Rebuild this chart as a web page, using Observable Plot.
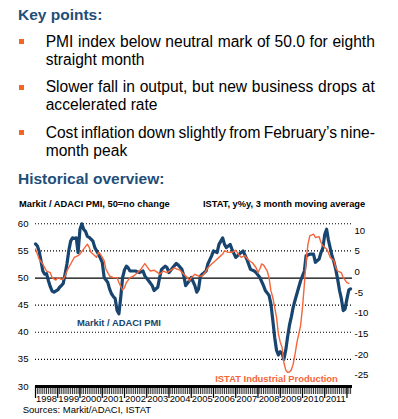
<!DOCTYPE html>
<html>
<head>
<meta charset="utf-8">
<script src="https://cdn.jsdelivr.net/npm/d3@7"></script>
<script src="https://cdn.jsdelivr.net/npm/@observablehq/plot@0.6"></script>
<style>
  html, body { margin: 0; padding: 0; background: #fff; }
  body { width: 398px; height: 419px; position: relative; overflow: hidden; font-family: "Liberation Sans", Arial, sans-serif; }
  .abs { position: absolute; white-space: nowrap; }
  .head { font-weight: bold; font-size: 15.5px; line-height: 15.5px; color: #1f4e79; }
  .bul { font-size: 15.6px; line-height: 17.7px; color: #000; left: 45.7px; }
  .bul .j { display: flex; justify-content: space-between; width: 329.3px; white-space: nowrap; }
  .sq { width: 5px; height: 5px; background: #f26522; left: 18.5px; }
  .sub { font-weight: bold; font-size: 9.3px; line-height: 9.3px; color: #000; }
  .src { font-size: 9.5px; line-height: 9.5px; color: #000; }
  #chart { position: absolute; left: 0; top: 195px; }
</style>
</head>
<body>
<div class="abs head" style="left:18px; top:7.2px;">Key points:</div>
<div class="abs sq" style="top:39px;"></div>
<div class="abs bul" style="top:32.8px;"><div class="j">PMI index below neutral mark of 50.0 for eighth</div><div>straight month</div></div>
<div class="abs sq" style="top:84.5px;"></div>
<div class="abs bul" style="top:78.3px;"><div class="j">Slower fall in output, but new business drops at</div><div>accelerated rate</div></div>
<div class="abs sq" style="top:130px;"></div>
<div class="abs bul" style="top:124px;"><div class="j">Cost inflation down slightly from February’s nine-</div><div>month peak</div></div>
<div class="abs head" style="left:18px; top:170.9px;">Historical overview:</div>
<div class="abs sub" style="left:19px; top:200.1px;">Markit / ADACI PMI, 50=no change</div>
<div class="abs sub" style="left:203px; top:200.1px;">ISTAT, y%y, 3 month moving average</div>
<div id="chart"></div>
<div class="abs src" style="left:22.7px; top:405px;">Sources: Markit/ADACI, ISTAT</div>
<script>
// justified first lines: split words into flex items spread across the line
document.querySelectorAll(".bul .j").forEach(el => {
  const words = el.textContent.split(" ");
  el.textContent = "";
  words.forEach(w => { const s = document.createElement("span"); s.textContent = w; el.appendChild(s); });
});

// ---- data ----
const pmiDates = ["1998-01","1998-02","1998-03","1998-04","1998-05","1998-06","1998-07","1998-08","1998-09","1998-10","1998-11",
"1999-01","1999-02","1999-03","1999-04","1999-05","1999-06","1999-07","1999-08","1999-09","1999-10","1999-11","1999-12",
"2000-01","2000-02","2000-03","2000-04","2000-05","2000-06","2000-08","2000-09","2000-11",
"2001-01","2001-02","2001-04","2001-05","2001-06","2001-07","2001-08","2001-09","2001-10","2001-11","2001-12",
"2002-01","2002-02","2002-03","2002-04","2002-07","2002-09","2002-11","2002-12",
"2003-02","2003-04","2003-05","2003-07","2003-08","2003-09","2003-11","2003-12",
"2004-01","2004-03","2004-05","2004-06","2004-08","2004-09","2004-10","2004-12",
"2005-01","2005-03","2005-04","2005-05","2005-06","2005-07","2005-09","2005-10","2005-12",
"2006-01","2006-03","2006-04","2006-06","2006-07","2006-08","2006-10","2006-11",
"2007-01","2007-03","2007-05","2007-07","2007-09","2007-11","2007-12",
"2008-02","2008-04","2008-05","2008-07","2008-08","2008-09","2008-10","2008-11","2008-12",
"2009-01","2009-02","2009-03","2009-04","2009-05","2009-06","2009-07","2009-08","2009-09","2009-10","2009-12",
"2010-02","2010-03","2010-05","2010-07","2010-08","2010-10","2010-11","2010-12",
"2011-01","2011-02","2011-03","2011-05","2011-06","2011-07","2011-08","2011-09","2011-10","2011-11","2011-12",
"2012-01","2012-02","2012-03"];
const pmiValues = [56.3,55.9,55.0,53.2,51.3,50.7,50.8,49.5,48.4,47.6,47.4,
47.8,48.3,48.6,49.0,50.7,52.6,55.0,56.8,57.4,57.3,57.4,54.7,
59.0,60.0,59.0,58.6,57.7,57.5,56.8,55.6,54.4,
52.9,50.1,49.2,48.0,47.1,46.6,46.2,44.0,43.4,46.5,50.1,
51.5,52.2,51.9,51.3,51.3,51.0,51.3,50.4,
49.5,48.6,47.7,48.3,50.1,51.6,52.2,51.9,
51.0,51.9,52.7,52.4,51.6,50.4,48.6,49.5,
50.1,48.6,47.4,48.0,50.4,50.7,51.3,52.6,54.1,
55.0,54.7,56.2,57.4,56.2,55.6,56.2,55.3,
53.8,54.4,55.0,53.5,51.6,51.3,51.0,
50.1,48.6,47.7,46.8,45.2,42.2,39.1,36.7,35.8,
36.4,36.1,35.0,36.7,39.1,41.3,42.8,44.6,45.9,47.1,49.5,
51.3,54.1,54.4,54.4,52.9,53.5,54.7,55.5,
58.0,59.0,57.1,54.1,53.0,51.6,49.8,47.7,46.2,44.0,44.3,
46.2,47.8,48.0];

const istatDates = ["1998-01","1998-02","1998-03","1998-05","1998-06","1998-07","1998-09","1998-10","1998-12",
"1999-01","1999-03","1999-04","1999-05","1999-06","1999-08","1999-10","1999-12",
"2000-01","2000-03","2000-05","2000-06","2000-07","2000-08","2000-10","2000-11","2000-12",
"2001-02","2001-03","2001-04","2001-05","2001-07","2001-09","2001-10","2001-12",
"2002-01","2002-02","2002-04","2002-06","2002-08","2002-10","2002-11","2002-12",
"2003-02","2003-03","2003-05","2003-07","2003-08","2003-10","2003-12",
"2004-02","2004-04","2004-05","2004-07","2004-09","2004-11","2004-12",
"2005-01","2005-03","2005-05","2005-07","2005-09","2005-10","2005-12",
"2006-02","2006-04","2006-06","2006-07","2006-09","2006-11",
"2007-01","2007-03","2007-04","2007-06","2007-08","2007-10","2007-12",
"2008-01","2008-02","2008-03","2008-04","2008-06","2008-07","2008-08","2008-09","2008-10","2008-11","2008-12",
"2009-01","2009-02","2009-03","2009-04","2009-05","2009-06","2009-07","2009-08","2009-09","2009-10","2009-12",
"2010-01","2010-02","2010-03","2010-04","2010-05","2010-07","2010-08","2010-10","2010-11","2010-12",
"2011-02","2011-03","2011-04","2011-06","2011-07","2011-08","2011-10","2011-11",
"2012-01","2012-02"];
const istatValues = [5.5,4.3,3.1,1.9,1.0,0.2,-0.2,-1.4,-2.0,
-1.4,-1.8,-1.8,-1.0,0.2,1.9,3.5,3.9,
4.3,5.5,6.7,5.9,4.7,4.3,3.5,4.7,4.3,
2.7,0.7,-0.2,-1.0,-1.4,-1.4,-2.6,-4.4,
-3.8,-2.6,-1.4,-1.0,-0.2,0.7,1.4,2.0,
0.7,0.2,0.4,-0.2,-0.6,0.2,-0.2,
0.4,1.0,0.7,0.4,-0.6,-1.4,-2.2,
-1.4,-0.6,-1.0,-1.0,0.2,1.0,1.9,
2.7,3.5,4.3,5.1,4.7,4.7,
5.2,4.0,3.5,3.9,2.8,2.2,1.0,
-0.2,0.7,1.9,1.7,0.2,-1.4,-4.6,-6.2,-8.6,-11.0,-15.0,
-17.0,-18.3,-21.9,-23.7,-24.3,-24.2,-23.7,-22.3,-19.9,-17.1,-13.0,
-8.6,-3.0,2.7,6.7,8.7,9.1,8.3,8.5,7.1,6.3,
5.5,4.7,3.5,2.7,1.0,0.2,-0.2,-1.4,
-2.6,-2.8];

const leftTicks = [30, 35, 40, 45, 50, 55, 60];
const dottedLevels = [35, 40, 45, 55, 60];
const neutralLevel = [50];
const rightTicks = [10, 5, 0, -5, -10, -15, -20, -25];
const yearLabels = [1998,1999,2000,2001,2002,2003,2004,2005,2006,2007,2008,2009,2010,2011];
const seriesNames = ["Markit / ADACI PMI", "ISTAT Industrial Production"];

// right axis (ISTAT %) mapped onto the left (PMI) scale
const toLeft = r => 51.14 + 0.763 * r;

const parse = s => new Date(s + "-01T00:00:00Z");
const pmi = pmiDates.map((d, i) => ({date: parse(d), value: pmiValues[i]}));
const istat = istatDates.map((d, i) => ({date: parse(d), value: toLeft(istatValues[i])}));

const start = new Date(Date.UTC(1998, 0, 1));
const end = new Date(Date.UTC(2012, 3, 1));
const months = d3.utcMonths(start, end);
const yearStarts = d3.utcYears(start, new Date(Date.UTC(2012, 0, 2)));
const midYears = yearLabels.map(y => new Date(Date.UTC(y, 6, 1)));
const rightPos = rightTicks.map(toLeft);

const blue = "#17456f";
const orange = "#f4663a";

const chart = Plot.plot({
  width: 398,
  height: 215,
  marginLeft: 35,
  marginRight: 46,
  marginTop: 28.3,
  marginBottom: 24,
  style: {fontFamily: "'Liberation Sans', Arial, sans-serif", fontSize: "9.4px", color: "#000", background: "transparent"},
  x: {type: "utc", domain: [start, end], label: null},
  y: {domain: [30, 60], label: null},
  marks: [
    Plot.ruleY(dottedLevels, {stroke: "#000", strokeWidth: 1.1, strokeDasharray: "1,2"}),
    Plot.ruleY(neutralLevel, {stroke: "#000", strokeWidth: 1.2}),
    Plot.line(pmi, {x: "date", y: "value", stroke: blue, strokeWidth: 3.2, strokeLinejoin: "round", curve: "linear"}),
    Plot.line(istat, {x: "date", y: "value", stroke: orange, strokeWidth: 1.4, strokeLinejoin: "round"}),
    Plot.axisY({ticks: leftTicks, tickSize: 0, tickPadding: 7, tickFormat: d => String(d), fontSize: 9.6}),
    Plot.axisY({anchor: "right", ticks: rightPos, tickSize: 0, tickPadding: 2,
                tickFormat: (d, i) => String(rightTicks[i]), fontSize: 9.6}),
    Plot.axisX({ticks: months, tickSize: 8, strokeWidth: 0.8, tickFormat: () => ""}),
    Plot.axisX({ticks: yearStarts, tickSize: 12, strokeWidth: 1.2, tickFormat: () => ""}),
    Plot.axisX({ticks: midYears, tickSize: 0, tickPadding: 9, tickFormat: d => String(d.getUTCFullYear()), fontSize: 9.4}),
    Plot.ruleY([30], {stroke: "#000", strokeWidth: 3}),
    Plot.text([{date: new Date(Date.UTC(2001, 9, 1)), v: 41.7, t: seriesNames[0]}],
      {x: "date", y: "v", text: "t", fill: blue, fontWeight: "bold", fontSize: 9.4}),
    Plot.text([{date: new Date(Date.UTC(2008, 10, 1)), v: 31.4, t: seriesNames[1]}],
      {x: "date", y: "v", text: "t", fill: orange, fontWeight: "bold", fontSize: 9.4})
  ]
});
document.getElementById("chart").appendChild(chart);
</script>
</body>
</html>
